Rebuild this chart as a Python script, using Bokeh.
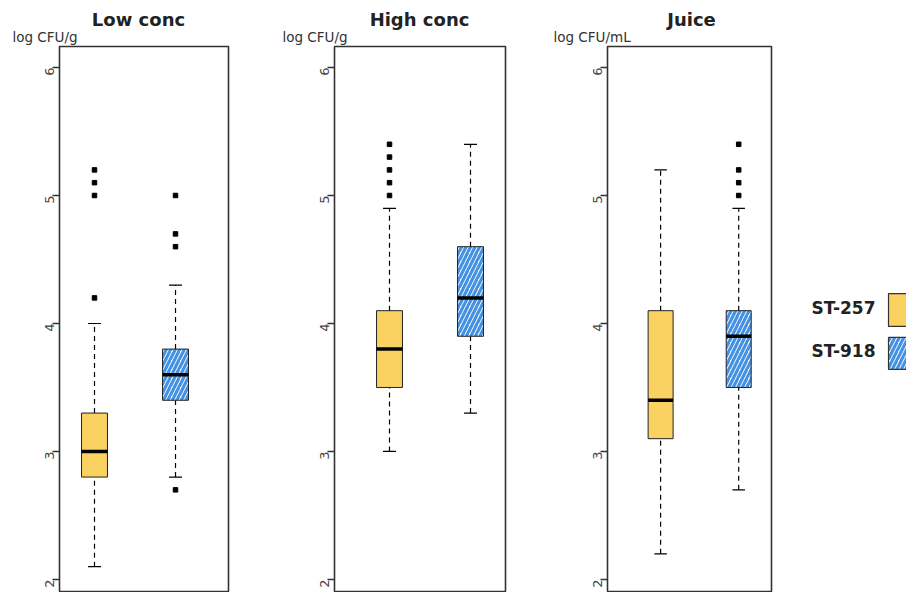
import math
from bokeh.plotting import figure
from bokeh.models import Range1d, FixedTicker, ColumnDataSource
from bokeh.layouts import row, column
from bokeh.embed import file_html
from bokeh.resources import INLINE
from bokeh.core.properties import value

# ---------------- data ----------------
panel_titles = ["Low conc", "High conc", "Juice"]
unit_labels = ["log CFU/g", "log CFU/g", "log CFU/mL"]
strains = ["ST-257", "ST-918"]
positions = [1, 2]
y_ticks = [2, 3, 4, 5, 6]

low_lower = [2.1, 2.8]
low_q1 = [2.8, 3.4]
low_median = [3.0, 3.6]
low_q3 = [3.3, 3.8]
low_upper = [4.0, 4.3]
low_out_257 = [4.2, 5.0, 5.1, 5.2]
low_out_918 = [2.7, 4.6, 4.7, 5.0]

high_lower = [3.0, 3.3]
high_q1 = [3.5, 3.9]
high_median = [3.8, 4.2]
high_q3 = [4.1, 4.6]
high_upper = [4.9, 5.4]
high_out_257 = [5.0, 5.1, 5.2, 5.3, 5.4]
high_out_918 = []

juice_lower = [2.2, 2.7]
juice_q1 = [3.1, 3.5]
juice_median = [3.4, 3.9]
juice_q3 = [4.1, 4.1]
juice_upper = [5.2, 4.9]
juice_out_257 = []
juice_out_918 = [5.0, 5.1, 5.2, 5.4]

# ---------------- style ----------------
FONT = "DejaVu Sans"
fills = ["#F9D262", "#FFFFFF"]
hatches = [" ", "/"]
HATCH_COLOR = "#4592E3"
HATCH_W = 3.2
HATCH_S = 9
BOX_W = 0.32
CAP_W = 0.16
TOTAL_W = 906
HEADER_H = 45
PANEL_H = 547

panel_stats = [
    (low_lower, low_q1, low_median, low_q3, low_upper, [low_out_257, low_out_918]),
    (high_lower, high_q1, high_median, high_q3, high_upper, [high_out_257, high_out_918]),
    (juice_lower, juice_q1, juice_median, juice_q3, juice_upper, [juice_out_257, juice_out_918]),
]

# layout per panel: x range, fig width, borders
layouts = [
    dict(xr=(0.568, 2.654), width=280, bl=59, br=52),
    dict(xr=(0.321, 2.432), width=270, bl=54, br=45),
    dict(xr=(0.320, 2.420), width=240, bl=57, br=19),
]
# header text anchors (page px)
title_x = [138, 419, 691]
unit_x = [12, 282, 553]

# ---------------- header (titles and unit labels) ----------------
header = figure(width=TOTAL_W, height=HEADER_H, x_range=Range1d(0, TOTAL_W),
                y_range=Range1d(HEADER_H, 0), output_backend="svg", toolbar_location=None,
                x_axis_location=None, y_axis_location=None, min_border=0)
header.grid.visible = False
header.outline_line_color = None
header.text(x=title_x, y=[19] * 3, text=panel_titles, text_align="center", text_baseline="middle",
            text_font=value(FONT), text_font_size="18px", text_font_style="bold",
            text_color="#222222")
header.text(x=unit_x, y=[36] * 3, text=unit_labels, text_align="left", text_baseline="middle",
            text_font=value(FONT), text_font_size="13.5px", text_color="#333333")


def make_panel(stats, lay):
    lower, q1, med, q3, upper, outs = stats
    p = figure(width=lay["width"], height=PANEL_H,
               x_range=Range1d(*lay["xr"]), y_range=Range1d(1.906, 6.164),
               output_backend="svg", toolbar_location=None,
               x_axis_location=None,
               min_border_left=lay["bl"], min_border_right=lay["br"],
               min_border_top=1, min_border_bottom=1)
    p.grid.visible = False
    p.background_fill_color = "white"
    p.border_fill_color = "white"
    p.outline_line_color = "#333333"
    p.outline_line_width = 1.6

    ax = p.yaxis[0]
    ax.ticker = FixedTicker(ticks=y_ticks)
    ax.major_label_orientation = math.pi / 2
    ax.major_tick_out = 7
    ax.major_tick_in = 0
    ax.minor_tick_line_color = None
    ax.axis_line_color = None
    ax.major_tick_line_color = "#333333"
    ax.major_tick_line_width = 1.5
    ax.major_label_text_font = FONT
    ax.major_label_text_font_size = "13px"
    ax.major_label_text_color = "#444444"
    ax.major_label_standoff = 3

    src = ColumnDataSource(dict(
        x=positions, lower=lower, q1=q1, med=med, q3=q3, upper=upper,
        cl=[x - CAP_W / 2 for x in positions], cr=[x + CAP_W / 2 for x in positions],
        ml=[x - BOX_W / 2 for x in positions], mr=[x + BOX_W / 2 for x in positions],
        fill=fills, hatch=hatches,
    ))
    # whiskers
    p.segment(x0="x", y0="q3", x1="x", y1="upper", source=src,
              line_color="black", line_width=1.2, line_dash="5 4")
    p.segment(x0="x", y0="lower", x1="x", y1="q1", source=src,
              line_color="black", line_width=1.2, line_dash="5 4")
    # caps
    p.segment(x0="cl", y0="upper", x1="cr", y1="upper", source=src,
              line_color="black", line_width=1.2)
    p.segment(x0="cl", y0="lower", x1="cr", y1="lower", source=src,
              line_color="black", line_width=1.2)
    # boxes
    p.vbar(x="x", width=BOX_W, bottom="q1", top="q3", source=src,
           fill_color="fill", hatch_pattern="hatch", hatch_color=HATCH_COLOR,
           hatch_weight=HATCH_W, hatch_scale=HATCH_S,
           line_color="#222222", line_width=1)
    # medians
    p.segment(x0="ml", y0="med", x1="mr", y1="med", source=src,
              line_color="black", line_width=3.5, line_cap="butt")
    # outliers
    ox, oy = [], []
    for x, vals in zip(positions, outs):
        for v in vals:
            ox.append(x)
            oy.append(v)
    p.scatter(x=ox, y=oy, marker="square", size=4.5, color="black")
    return p


panels = [make_panel(s, l) for s, l in zip(panel_stats, layouts)]

# ---------------- legend ----------------
LEG_W = TOTAL_W - sum(l["width"] for l in layouts)
leg = figure(width=LEG_W, height=PANEL_H, x_range=Range1d(0, LEG_W),
             y_range=Range1d(HEADER_H + PANEL_H, HEADER_H),
             output_backend="svg", toolbar_location=None,
             x_axis_location=None, y_axis_location=None,
             min_border=0)
leg.grid.visible = False
leg.outline_line_color = None
leg.text(x=[85, 85], y=[307, 351], text=strains, text_align="right", text_baseline="middle",
         text_font=value(FONT), text_font_size="17px", text_font_style="bold",
         text_color="#222222")
leg.quad(left=[98, 98], right=[140, 140], top=[293, 337], bottom=[326, 369],
         fill_color=fills, hatch_pattern=hatches, hatch_color=HATCH_COLOR,
         hatch_weight=HATCH_W, hatch_scale=HATCH_S, line_color="#333333", line_width=1.2)

layout = column(header, row(*panels, leg))
open("out.html", "w").write(file_html(layout, INLINE))
